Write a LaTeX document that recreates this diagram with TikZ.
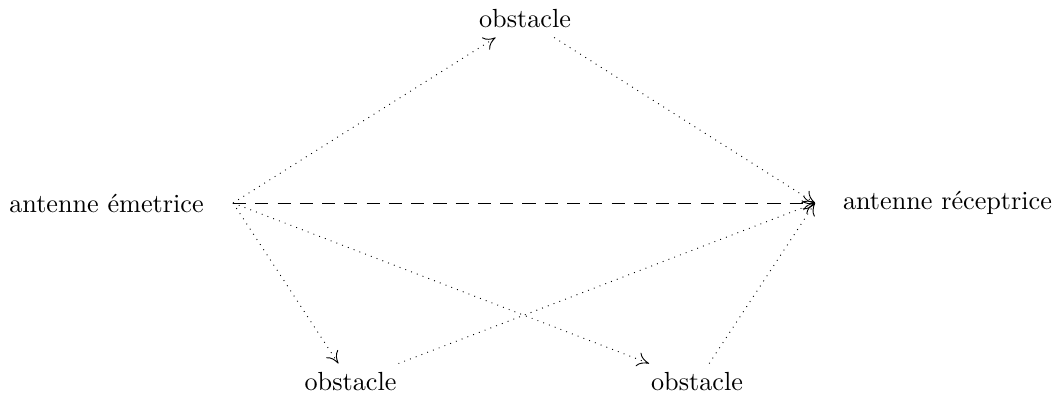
\documentclass[tikz,border=0pt]{standalone}
\usetikzlibrary{arrows.meta}
\begin{document}
\begin{tikzpicture}[x=0.3817pt,y=-0.3817pt,
  lbl/.style={inner sep=3.33pt},
  obst/.style={inner sep=3.33pt},
  tip/.style={-{To[length=4.5pt,width=5.5pt]}},
  path/.style={tip,dotted,line width=0.35pt},
  direct/.style={tip,dash pattern=on 5pt off 3.5pt,line width=0.3pt}]
\useasboundingbox (0,0) rectangle (1057,394);
\coordinate (E) at (233,203);
\coordinate (R) at (815,203);
\node[lbl] (El) at (106.5,203) {antenne émetrice};
\node[lbl] (Rl) at (947.5,203) {antenne réceptrice};
\node[obst] (O1) at (525,19) {obstacle};
\node[obst] (O2) at (350.5,382) {obstacle};
\node[obst] (O3) at (697,382) {obstacle};
\draw[direct] (E) -- (R);
\draw[path] (E) -- (O1);
\draw[path] (O1) -- (R);
\draw[path] (E) -- (O2);
\draw[path] (E) -- (O3);
\draw[path] (O2) -- (R);
\draw[path] (O3) -- (R);
\end{tikzpicture}
\end{document}
